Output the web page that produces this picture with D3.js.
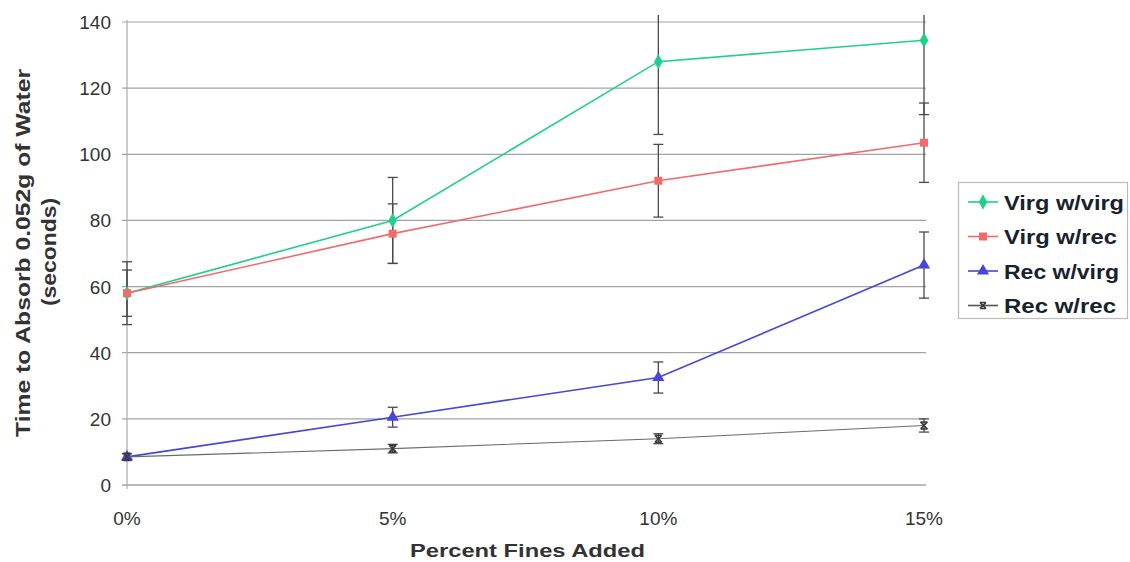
<!DOCTYPE html>
<html>
<head>
<meta charset="utf-8">
<script src="https://cdn.jsdelivr.net/npm/d3@7"></script>
<style>
  body { margin: 0; background: #fff; }
  svg { font-family: Arial, "Liberation Sans", sans-serif; }
</style>
</head>
<body>
<svg id="chart" width="1130" height="562"></svg>
<script>
// data
var categories = ['0%', '5%', '10%', '15%'];
var seriesNames = ['Virg w/virg', 'Virg w/rec', 'Rec w/virg', 'Rec w/rec'];
var virgVirg = [58, 80, 128, 134.5];
var virgRec = [58, 76, 92, 103.5];
var recVirg = [8.5, 20.5, 32.5, 66.5];
var recRec = [8.5, 11, 14, 18];
var virgVirgErr = [9.5, 13, 22, 22.5];
var virgRecErr = [7, 9, 11, 12];
var recVirgErr = [1, 3, 4.7, 10];
var recRecErr = [1, 1.3, 1.5, 2];
var yTicks = [0, 20, 40, 60, 80, 100, 120, 140];

var series = [
    {name: seriesNames[0], values: virgVirg, err: virgVirgErr, color: '#1fcf8c', marker: 'diamond'},
    {name: seriesNames[1], values: virgRec, err: virgRecErr, color: '#f26b6b', marker: 'square'},
    {name: seriesNames[2], values: recVirg, err: recVirgErr, color: '#4646d8', marker: 'triangle'},
    {name: seriesNames[3], values: recRec, err: recRecErr, color: '#3a3a3a', marker: 'cross'}
];

var svg = d3.select('#chart');
var plotLeft = 127, plotRight = 924, plotTop = 22, plotBottom = 485;

var x = d3.scalePoint().domain(categories).range([plotLeft, plotRight]);
var y = d3.scaleLinear().domain([0, 140]).range([plotBottom, plotTop]);

// clip so the long error bars stop just above the top of the plot
svg.append('defs').append('clipPath').attr('id', 'plotclip')
    .append('rect')
    .attr('x', plotLeft - 20).attr('y', 15)
    .attr('width', plotRight - plotLeft + 40).attr('height', plotBottom - 15 + 10);

// gridlines
svg.append('g')
    .selectAll('line')
    .data(yTicks)
    .join('line')
    .attr('x1', plotLeft - 5)
    .attr('x2', plotRight + 2)
    .attr('y1', function (d) { return y(d); })
    .attr('y2', function (d) { return y(d); })
    .attr('stroke', function (d) { return d === 0 ? '#777' : '#a3a3a3'; })
    .attr('stroke-width', 1.2);

// left axis line
svg.append('line')
    .attr('x1', plotLeft).attr('x2', plotLeft)
    .attr('y1', y(140) - 2).attr('y2', plotBottom + 4)
    .attr('stroke', '#aaa').attr('stroke-width', 1.2);

// y tick labels
svg.append('g')
    .selectAll('text')
    .data(yTicks)
    .join('text')
    .attr('x', 111)
    .attr('y', function (d) { return y(d) + 7; })
    .attr('text-anchor', 'end')
    .attr('font-size', 19)
    .attr('fill', '#333')
    .text(function (d) { return d; });

// x tick labels
svg.append('g')
    .selectAll('text')
    .data(categories)
    .join('text')
    .attr('x', function (d) { return x(d); })
    .attr('y', 525)
    .attr('text-anchor', 'middle')
    .attr('font-size', 19)
    .attr('fill', '#333')
    .text(function (d) { return d; });

// axis titles (the scan is stretched sideways, so widths are fixed)
svg.append('text')
    .attr('x', 410).attr('y', 557)
    .attr('font-size', 19).attr('font-weight', 'bold')
    .attr('fill', '#333')
    .attr('textLength', 235).attr('lengthAdjust', 'spacingAndGlyphs')
    .text('Percent Fines Added');

svg.append('text')
    .attr('transform', 'translate(30,437) rotate(-90)')
    .attr('font-size', 20).attr('font-weight', 'bold')
    .attr('fill', '#333')
    .attr('textLength', 368).attr('lengthAdjust', 'spacingAndGlyphs')
    .text('Time to Absorb 0.052g of Water');
svg.append('text')
    .attr('transform', 'translate(56,306) rotate(-90)')
    .attr('font-size', 20).attr('font-weight', 'bold')
    .attr('fill', '#333')
    .attr('textLength', 108).attr('lengthAdjust', 'spacingAndGlyphs')
    .text('(seconds)');

// lines
var line = d3.line()
    .x(function (d, i) { return x(categories[i]); })
    .y(function (d) { return y(d); });

var plot = svg.append('g');

series.forEach(function (s) {
    plot.append('path')
        .datum(s.values)
        .attr('d', line)
        .attr('fill', 'none')
        .attr('stroke', s.marker === 'cross' ? '#6a6a6a' : s.color)
        .attr('stroke-width', s.marker === 'cross' ? 1.1 : 1.6);
});

// error bars
var errs = svg.append('g').attr('clip-path', 'url(#plotclip)');
series.forEach(function (s) {
    s.values.forEach(function (v, i) {
        var cx = x(categories[i]);
        var lo = y(v - s.err[i]), hi = y(v + s.err[i]);
        errs.append('line')
            .attr('x1', cx).attr('x2', cx)
            .attr('y1', lo).attr('y2', hi)
            .attr('stroke', '#4a4a4a').attr('stroke-width', 1.3);
        [lo, hi].forEach(function (yy) {
            errs.append('line')
                .attr('x1', cx - 5).attr('x2', cx + 5)
                .attr('y1', yy).attr('y2', yy)
                .attr('stroke', '#4a4a4a').attr('stroke-width', 1.3);
        });
    });
});

// markers
function drawMarker(g, type, cx, cy, color, size) {
    if (type === 'cross') {
        g.append('path')
            .attr('d', 'M' + (cx - size) + ',' + (cy - size) + 'L' + (cx + size) + ',' + (cy + size) +
                'M' + (cx - size) + ',' + (cy + size) + 'L' + (cx + size) + ',' + (cy - size) +
                'M' + (cx - size) + ',' + (cy - size) + 'L' + (cx + size) + ',' + (cy - size) +
                'M' + (cx - size) + ',' + (cy + size) + 'L' + (cx + size) + ',' + (cy + size))
            .attr('stroke', color).attr('stroke-width', 1.6).attr('fill', 'none');
        return;
    }
    var sym = type === 'diamond' ? d3.symbolDiamond : type === 'square' ? d3.symbolSquare : d3.symbolTriangle;
    g.append('path')
        .attr('d', d3.symbol().type(sym).size(size * size * 4)())
        .attr('transform', 'translate(' + cx + ',' + cy + ')')
        .attr('fill', color);
}

var marks = svg.append('g');
series.forEach(function (s) {
    s.values.forEach(function (v, i) {
        drawMarker(marks, s.marker, x(categories[i]), y(v), s.color, s.marker === 'cross' ? 3.5 : 4);
    });
});

// legend
var legend = svg.append('g');
legend.append('rect')
    .attr('x', 958.5).attr('y', 182.5)
    .attr('width', 169).attr('height', 136)
    .attr('fill', '#fff').attr('stroke', '#bbb').attr('stroke-width', 1.2);

var legendWidths = [120, 113, 115, 112];
series.forEach(function (s, i) {
    var ly = 202 + i * 34.5;
    legend.append('line')
        .attr('x1', 968).attr('x2', 998)
        .attr('y1', ly).attr('y2', ly)
        .attr('stroke', s.marker === 'cross' ? '#555' : s.color).attr('stroke-width', 1.6);
    drawMarker(legend, s.marker, 983, ly, s.color, s.marker === 'cross' ? 3 : 4);
    legend.append('text')
        .attr('x', 1004).attr('y', ly + 7.5)
        .attr('font-size', 21).attr('font-weight', 'bold')
        .attr('fill', '#17222c')
        .attr('textLength', legendWidths[i]).attr('lengthAdjust', 'spacingAndGlyphs')
        .text(s.name);
});
</script>
</body>
</html>
